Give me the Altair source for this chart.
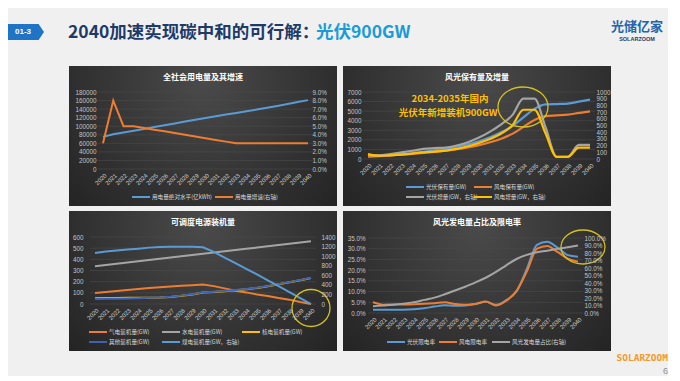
import altair as alt
import pandas as pd

# ---------------- data ----------------
YEARS = [2020, 2021, 2022, 2023, 2024, 2025, 2026, 2027, 2028, 2029, 2030,
         2031, 2032, 2033, 2034, 2035, 2036, 2037, 2038, 2039, 2040]

BADGE = "01-3"
HEADER_TITLE = "2040加速实现碳中和的可行解："
HEADER_HIGHLIGHT = "光伏900GW"
LOGO_CN = "光储亿家"
LOGO_EN = "SOLARZOOM"
FOOTER_BRAND = "SOLARZOOM"
PAGE_NO = "6"

P1_TITLE = "全社会用电量及其增速"
P1_NAMES = ["用电量绝对水平(亿kWh)", "用电量增速(右轴)"]
P1_USAGE = [75100, 81100, 85200, 89400, 93700, 98000, 102300, 106600, 110900, 115100, 119200,
            123300, 127200, 131000, 134900, 139000, 143100, 147400, 151800, 156400, 161000]
P1_GROWTH_PCT = [3.0, 8.0, 5.0, 5.0, 4.8, 4.6, 4.4, 4.2, 4.0, 3.8, 3.6,
                 3.4, 3.2, 3.0, 3.0, 3.0, 3.0, 3.0, 3.0, 3.0, 3.0]
P1_LEFT_TICKS = [0, 20000, 40000, 60000, 80000, 100000, 120000, 140000, 160000, 180000]
P1_RIGHT_TICKS_PCT = [0, 1, 2, 3, 4, 5, 6, 7, 8, 9]

P2_TITLE = "风光保有量及增量"
P2_NAMES = ["光伏保有量(GW)", "风电保有量(GW)", "光伏增量(GW，右轴)", "风电增量(GW，右轴)"]
P2_PV_STOCK = [253, 307, 381, 479, 602, 752, 914, 1086, 1288, 1539, 1859,
               2268, 2785, 3440, 4340, 5240, 5700, 5740, 5780, 5990, 6200]
P2_WIND_STOCK = [282, 330, 385, 450, 530, 630, 740, 865, 1015, 1205, 1445,
                 1745, 2125, 2625, 3355, 4085, 4485, 4560, 4640, 4810, 4980]
P2_PV_ADD = [60, 54, 74, 98, 123, 150, 162, 172, 202, 251, 320,
             409, 517, 655, 900, 900, 470, 35, 35, 210, 210]
P2_WIND_ADD = [72, 47, 55, 65, 80, 100, 110, 125, 150, 190, 240,
               300, 380, 500, 735, 735, 380, 30, 30, 170, 170]
P2_LEFT_TICKS = [0, 1000, 2000, 3000, 4000, 5000, 6000, 7000]
P2_RIGHT_TICKS = [0, 100, 200, 300, 400, 500, 600, 700, 800, 900, 1000]
P2_NOTE = ["2034-2035年国内", "光伏年新增装机900GW"]

P3_TITLE = "可调度电源装机量"
P3_NAMES = ["气电装机量(GW)", "水电装机量(GW)", "核电装机量(GW)", "其他装机量(GW)", "煤电装机量(GW，右轴)"]
P3_GAS = [98, 107, 116, 125, 134, 143, 151, 157, 163, 169, 175,
          160, 140, 119, 104, 86, 71, 53, 39, 18, 0]
P3_HYDRO = [339, 350, 361, 372, 383, 394, 406, 417, 428, 439, 450,
            461, 472, 483, 494, 505, 517, 528, 539, 550, 561]
P3_NUCLEAR = [52, 53, 54, 55, 56, 57, 58, 63, 73, 86, 102,
              108, 114, 123, 132, 144, 158, 176, 194, 212, 233]
P3_OTHER = [45, 46, 48, 50, 52, 55, 59, 65, 75, 88, 104,
            110, 116, 125, 134, 146, 160, 178, 196, 214, 235]
P3_COAL = [1067, 1095, 1116, 1137, 1157, 1178, 1192, 1195, 1195, 1195, 1185,
           1088, 970, 852, 735, 617, 492, 374, 250, 125, 0]
P3_LEFT_TICKS = [0, 100, 200, 300, 400, 500, 600]
P3_RIGHT_TICKS = [0, 200, 400, 600, 800, 1000, 1200, 1400]

P4_TITLE = "风光发电量占比及限电率"
P4_NAMES = ["光伏限电率", "风电限电率", "风光发电量占比(右轴)"]
P4_PV_CURT = [1.5, 1.5, 1.5, 1.5, 1.7, 2.2, 3.0, 3.6, 3.4, 3.5, 4.2,
              5.2, 3.8, 6.0, 10.0, 20.5, 31.8, 33.2, 30.5, 27.0, 26.3]
P4_WIND_CURT = [5.0, 3.9, 4.0, 4.0, 4.1, 4.3, 4.6, 5.0, 4.2, 3.9, 4.2,
                5.4, 3.5, 5.7, 10.3, 19.3, 30.0, 31.3, 28.5, 25.4, 23.9]
P4_SHARE = [9.0, 10.0, 11.0, 12.5, 14.5, 17.5, 20.5, 25.0, 30.0, 35.0, 40.8,
            47.0, 54.8, 63.6, 72.0, 77.5, 81.0, 83.0, 85.5, 87.7, 90.0]
P4_LEFT_TICKS_PCT = [0, 5, 10, 15, 20, 25, 30, 35]
P4_RIGHT_TICKS_PCT = [0, 10, 20, 30, 40, 50, 60, 70, 80, 90, 100]

# ---------------- style ----------------
BLUE = "#5b9bd5"
ORANGE = "#ed7d31"
GRAY = "#a5a5a5"
YELLOW = "#ffc000"
DARKBLUE = "#3f62b0"
CIRCLE = "#d6c21c"
CJK = "Noto Sans CJK SC"
NUM = "Liberation Sans"
W, H = 268, 140
ONE = pd.DataFrame({"k": [0]})

BG_GRAD = {"gradient": "radial", "x1": 0.5, "y1": 0.3, "r1": 0,
           "x2": 0.5, "y2": 0.3, "r2": 0.8,
           "stops": [{"offset": 0, "color": "#4a4a4a"},
                     {"offset": 1, "color": "#1d1d1d"}]}


def ax(**kw):
    base = dict(title=None, domain=False, ticks=False, tickSize=0, grid=False,
                labelColor="#c4c4c4", labelFont=NUM, labelFontSize=6.3,
                labelOverlap=False, labelFlush=False, zindex=1)
    base.update(kw)
    return alt.Axis(**base)


def ellipse(cx, cy, w, h):
    r = h / w
    path = f"M-1,0 A1,{r:.3f} 0 1,0 1,0 A1,{r:.3f} 0 1,0 -1,0 Z"
    return alt.Chart(ONE).mark_point(shape=path, size=w * w, filled=False, color=CIRCLE,
                                     strokeWidth=1.3, opacity=1).encode(
        x=alt.value(cx), y=alt.value(cy))


def txt(s, x, y, **kw):
    return alt.Chart(ONE).mark_text(**kw).encode(x=alt.value(x), y=alt.value(y), text=alt.value(s))


def panel(geo, title, left, right, lcfg, rcfg, legend, extras, interp="linear", sw=2):
    x0, x1, yb, yt, llab, rlab = geo
    xenc = alt.X("year:Q",
                 scale=alt.Scale(domain=[2020, 2040], range=[x0, x1], nice=False, zero=False),
                 axis=ax(values=YEARS, format="d", labelAngle=-45, labelFontSize=6,
                         labelColor="#d0d0d0", offset=yb - H, labelPadding=3))

    def yenc(cfg, orient, offset):
        return alt.Y("v:Q",
                     scale=alt.Scale(domain=cfg["domain"], range=[yb, yt], nice=False, zero=False),
                     axis=ax(orient=orient, values=cfg["ticks"], format=cfg["fmt"],
                             offset=offset, labelPadding=2))

    yl = yenc(lcfg, "left", -(llab + 2))
    yr = yenc(rcfg, "right", rlab - W - 2)

    grid = alt.Chart(pd.DataFrame({"v": lcfg["ticks"]})).mark_rule(
        color="#4c4c4c", strokeWidth=0.6).encode(x=alt.value(x0 - 5), x2=alt.value(x1 + 5), y=yl)

    def series(vals, color, yenc_):
        df = pd.DataFrame({"year": YEARS, "v": vals})
        return alt.Chart(df).mark_line(color=color, strokeWidth=sw, interpolate=interp).encode(
            x=xenc, y=yenc_)

    lgroup = alt.layer(grid, *[series(v, c, yl) for v, c in left])
    rgroup = alt.layer(*[series(v, c, yr) for v, c in right])

    bg = alt.Chart(ONE).mark_rect(fill=BG_GRAD).encode(
        x=alt.value(0), x2=alt.value(W), y=alt.value(0), y2=alt.value(H))
    ttl = txt(title, W / 2, 12, font=CJK, fontSize=8, fontWeight="bold", color="#ffffff")

    leg = []
    for name, color, lx, ly in legend:
        leg.append(alt.Chart(ONE).mark_rule(color=color, strokeWidth=2).encode(
            x=alt.value(lx), x2=alt.value(lx + 18), y=alt.value(ly)))
        leg.append(txt(name, lx + 20, ly, align="left", baseline="middle", font=CJK,
                       fontSize=5.6, color="#d8d8d8"))

    return alt.layer(bg, lgroup, rgroup, ttl, *leg, *extras).resolve_scale(
        y="independent").properties(width=W, height=H)


# ---------------- panels ----------------
p1 = panel(
    (34, 239, 103, 26, 27, 243), P1_TITLE,
    [(P1_USAGE, BLUE)],
    [([g / 100 for g in P1_GROWTH_PCT], ORANGE)],
    {"domain": [0, 180000], "ticks": P1_LEFT_TICKS, "fmt": "d"},
    {"domain": [0, 0.09], "ticks": [t / 100 for t in P1_RIGHT_TICKS_PCT], "fmt": ".1%"},
    [(P1_NAMES[0], BLUE, 63, 131), (P1_NAMES[1], ORANGE, 146, 131)],
    [],
)

p2 = panel(
    (25, 247, 93, 26, 18, 253), P2_TITLE,
    [(P2_PV_STOCK, BLUE), (P2_WIND_STOCK, ORANGE)],
    [(P2_PV_ADD, GRAY), (P2_WIND_ADD, YELLOW)],
    {"domain": [0, 7000], "ticks": P2_LEFT_TICKS, "fmt": "d"},
    {"domain": [0, 1000], "ticks": P2_RIGHT_TICKS, "fmt": "d"},
    [(P2_NAMES[0], BLUE, 63, 121), (P2_NAMES[1], ORANGE, 131, 121),
     (P2_NAMES[2], GRAY, 63, 131), (P2_NAMES[3], YELLOW, 131, 131)],
    [ellipse(180, 41, 50, 40),
     txt(P2_NOTE[0], 107, 33, font=CJK, fontSize=9.5, fontWeight="bold", color=YELLOW),
     txt(P2_NOTE[1], 105, 47, font=CJK, fontSize=9.5, fontWeight="bold", color=YELLOW)],
    interp="monotone", sw=2.2,
)

p3 = panel(
    (26, 242, 93, 26, 14, 252), P3_TITLE,
    [(P3_GAS, ORANGE), (P3_HYDRO, GRAY), (P3_NUCLEAR, YELLOW), (P3_OTHER, DARKBLUE)],
    [(P3_COAL, BLUE)],
    {"domain": [0, 600], "ticks": P3_LEFT_TICKS, "fmt": "d"},
    {"domain": [0, 1400], "ticks": P3_RIGHT_TICKS, "fmt": "d"},
    [(P3_NAMES[0], ORANGE, 20, 121), (P3_NAMES[1], GRAY, 93, 121), (P3_NAMES[2], YELLOW, 173, 121),
     (P3_NAMES[3], DARKBLUE, 20, 131), (P3_NAMES[4], BLUE, 93, 131)],
    [ellipse(242, 97, 38, 37)],
)

p4 = panel(
    (30, 235, 102, 27, 22, 241), P4_TITLE,
    [([v / 100 for v in P4_PV_CURT], BLUE), ([v / 100 for v in P4_WIND_CURT], ORANGE)],
    [([v / 100 for v in P4_SHARE], GRAY)],
    {"domain": [0, 0.35], "ticks": [t / 100 for t in P4_LEFT_TICKS_PCT], "fmt": ".1%"},
    {"domain": [0, 1.0], "ticks": [t / 100 for t in P4_RIGHT_TICKS_PCT], "fmt": ".1%"},
    [(P4_NAMES[0], BLUE, 44, 131), (P4_NAMES[1], ORANGE, 96, 131), (P4_NAMES[2], GRAY, 149, 131)],
    [ellipse(240, 36, 44, 34),
     txt(FOOTER_BRAND, 325, 147, align="right", baseline="middle", font="DejaVu Sans Mono",
         fontSize=9.5, fontWeight="bold", color="#f39a2c"),
     txt(PAGE_NO, 325, 160, align="right", baseline="middle", font=NUM, fontSize=9, color="#8c8c8c")],
    interp="monotone",
)

# ---------------- header ----------------
BADGE_PATH = "M-1,-0.45 L0.7,-0.45 L1,0 L0.7,0.45 L-1,0.45 Z"
header = alt.layer(
    alt.Chart(ONE).mark_point(shape=BADGE_PATH, size=36 * 36, filled=True, color="#1f74c5",
                              opacity=1, strokeWidth=0).encode(x=alt.value(18), y=alt.value(24)),
    txt(BADGE, 15, 24, font=NUM, fontSize=8, fontWeight="bold", color="#ffffff", baseline="middle"),
    txt(HEADER_TITLE, 60, 25, align="left", baseline="middle", font=CJK, fontSize=17.5,
        fontWeight="bold", color="#1f3a68"),
    txt(HEADER_HIGHLIGHT, 308, 25, align="left", baseline="middle", font=CJK, fontSize=17.5,
        fontWeight="bold", color="#1b9bd7"),
    txt(LOGO_CN, 629, 19, baseline="middle", font=CJK, fontSize=13, fontWeight="bold", color="#2166ad"),
    txt(LOGO_EN, 629, 31, baseline="middle", font=NUM, fontSize=5.5, fontWeight="bold", color="#1f3a68"),
).properties(width=660, height=53)


def spacer():
    return alt.Chart(ONE).mark_rect(opacity=0).encode(
        x=alt.value(0), x2=alt.value(1), y=alt.value(0), y2=alt.value(1)).properties(width=55, height=H)


row1 = alt.hconcat(spacer(), p1, p2, spacing=6)
row2 = alt.hconcat(spacer(), p3, p4, spacing=6)

chart = alt.vconcat(header, row1, row2, spacing=5).properties(
    padding=0, background="#f0f0f0").configure_view(strokeWidth=0)

chart.save("out.html", embed_options={"renderer": "svg", "actions": False})
